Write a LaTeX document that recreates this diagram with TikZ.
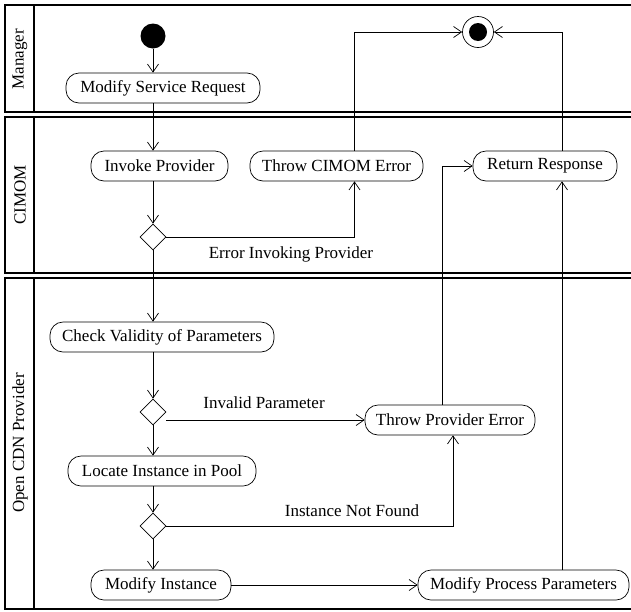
\documentclass[tikz,border=0pt]{standalone}
\usepackage{fontspec}
\setmainfont{Liberation Serif}
\usetikzlibrary{arrows.meta,shapes.geometric}
\begin{document}
\begin{tikzpicture}[x=1pt,y=-1pt,
  txt/.style={font=\fontsize{17}{19}\selectfont},
  act/.style={txt, draw, rectangle, rounded corners=13pt, minimum height=30pt, inner sep=0pt, line width=0.7pt},
  dec/.style={draw, diamond, minimum width=26pt, minimum height=26pt, inner sep=0pt, line width=0.7pt},
  flow/.style={line width=0.7pt, -{Straight Barb[length=8pt,width=11pt]}},
  lane/.style={line width=2.2pt},
  lanelbl/.style={txt, rotate=90}]
\useasboundingbox (0,0) rectangle (631,611);
% lanes
\draw[lane] (640,5) -- (5,5) -- (5,112) -- (640,112);
\draw[lane] (34,5) -- (34,112);
\draw[lane] (640,117) -- (5,117) -- (5,273) -- (640,273);
\draw[lane] (34,117) -- (34,273);
\draw[lane] (640,278) -- (5,278) -- (5,609) -- (640,609);
\draw[lane] (34,278) -- (34,609);
\node[lanelbl] (lmgr) at (20,59) {Manager};
\node[lanelbl] (lcim) at (20,195) {CIMOM};
\node[lanelbl] (lprov) at (20,443) {Open CDN Provider};
% nodes
\node[circle, fill=black, minimum size=25pt, inner sep=0pt] (start) at (153,36) {};
\node[circle, draw, line width=0.7pt, minimum size=31pt, inner sep=0pt] (end) at (478,32) {};
\node[circle, fill=black, minimum size=18pt, inner sep=0pt] (endin) at (478,32) {};
\node[act, minimum width=194pt] (msr) at (163,88) {Modify Service Request};
\node[act, minimum width=137pt] (ip) at (159.5,166) {Invoke Provider};
\node[act, minimum width=173pt] (tce) at (336.5,166) {Throw CIMOM Error};
\node[act, minimum width=144pt] (rr) at (545,166) {Return Response};
\node[dec] (d1) at (153,237) {};
\node[txt] (l1) at (291,254) {Error Invoking Provider};
\node[act, minimum width=224pt] (cvp) at (162,337) {Check Validity of Parameters};
\node[dec] (d2) at (153,412) {};
\node[txt] (l2) at (264,403) {Invalid Parameter};
\node[act, minimum width=170pt] (tpe) at (450,420) {Throw Provider Error};
\node[act, minimum width=188pt] (lip) at (162,471) {Locate Instance in Pool};
\node[dec] (d3) at (153,526) {};
\node[txt] (l3) at (352,511) {Instance Not Found};
\node[act, minimum width=140pt] (mi) at (161,585) {Modify Instance};
\node[act, minimum width=211pt] (mpp) at (523.5,585) {Modify Process Parameters};
% connectors
\draw[flow] (start) -- (start |- msr.north);
\draw[flow] (start |- msr.south) -- (start |- ip.north);
\draw[flow] (start |- ip.south) -- (d1.north);
\draw[flow] (d1.south) -- (d1 |- cvp.north);
\draw[flow] (d1 |- cvp.south) -- (d2.north);
\draw[flow] (d2.south) -- (d2 |- lip.north);
\draw[flow] (d2 |- lip.south) -- (d3.north);
\draw[flow] (d3.south) -- (d3 |- mi.north);
\coordinate (tceb) at ([xshift=18pt]tce.south);
\draw[flow] (d1.east) -| (tceb);
\draw[flow] ([xshift=18pt]tce.north) |- (end.west);
\coordinate (rrb) at ([xshift=17pt]rr.south);
\draw[flow] ([xshift=17pt]rr.north) |- (end.east);
\draw[flow] (d2.east |- tpe) -- (tpe.west);
\coordinate (tpeb) at ([xshift=3pt]tpe.south);
\draw[flow] (d3.east) -| (tpeb);
\draw[flow] ([xshift=-8pt]tpe.north) |- (rr.west);
\draw[flow] (mi.east) -- (mpp.east -| mpp.west);
\draw[flow] (rrb |- mpp.north) -- (rrb);
\end{tikzpicture}
\end{document}
